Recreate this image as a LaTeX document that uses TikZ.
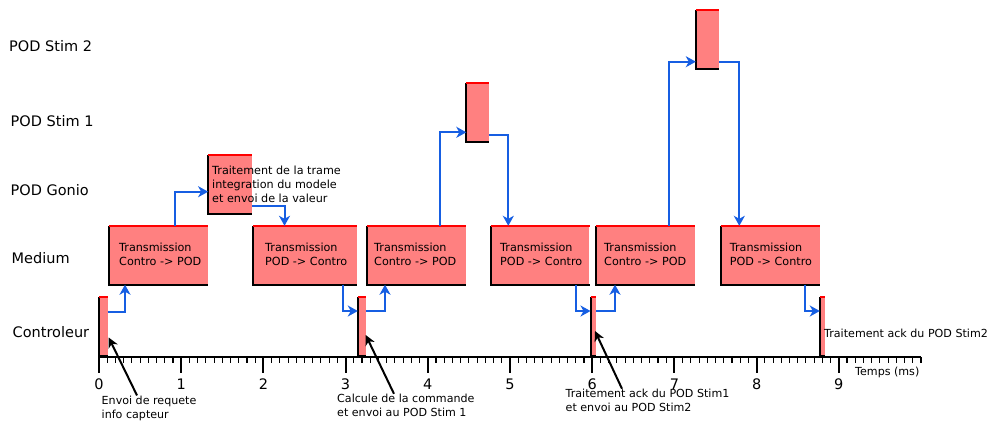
\documentclass[tikz,border=0pt]{standalone}
\usepackage{fontspec}
\setmainfont{DejaVu Sans}
\usetikzlibrary{arrows.meta,fit,calc}
\definecolor{boxfill}{RGB}{255,128,128}
\definecolor{flowblue}{RGB}{22,94,226}
\newcommand\boxedges[1]{%
  \draw[line width=2pt,black] (#1.north west) -- (#1.south west) -- (#1.south east);
  \draw[line width=1.4pt,red] (#1.north west) -- (#1.north east);}
\begin{document}
\begin{tikzpicture}[x=1pt,y=-1pt,
  task/.style={rectangle,fill=boxfill,inner sep=0pt,draw=none},
  flow/.style={draw=flowblue,line width=2pt,-{Stealth[length=10pt,width=11pt,inset=3pt]}},
  note/.style={draw=black,line width=2pt,-{Stealth[length=10pt,width=10pt,inset=3pt]}},
  rowlabel/.style={anchor=base west,font=\fontsize{14.5}{17}\selectfont,inner sep=0pt},
  boxtext/.style={anchor=north west,align=left,font=\fontsize{11.2}{14.5}\selectfont,inner sep=0pt},
  smalltext/.style={anchor=north west,align=left,font=\fontsize{11.1}{14.4}\selectfont,inner sep=0pt},
  ticklabel/.style={anchor=base,font=\fontsize{14.5}{17}\selectfont,inner sep=0pt}
]
\useasboundingbox (0,0) rectangle (992,421);

% row labels
\node[rowlabel] (lS2) at (9,51.7) {POD Stim 2};
\node[rowlabel] (lS1) at (10.5,126) {POD Stim 1};
\node[rowlabel] (lG) at (10.5,195.5) {POD Gonio};
\node[rowlabel] (lM) at (11.5,263) {Medium};
\node[rowlabel] (lC) at (12.5,337.3) {Controleur};

% axis
\draw[line width=2pt] (99,357) -- (921,357);
\foreach \i in {0,...,100} \draw[line width=1.1pt] (99+8.22*\i,357) -- ++(0,5.5);
\foreach \i in {0,...,9} {
  \draw[line width=2pt] (99+82.2*\i,357) -- ++(0,16);
  \node[ticklabel] (tk\i) at (99+82.2*\i,389) {\i};
}
\node[anchor=base west,font=\fontsize{11.1}{13}\selectfont,inner sep=0pt] (unit) at (855,375) {Temps (ms)};

% controller bars
\node[task,fit={(99,297) (107.5,356)}] (c1) {};
\node[task,fit={(358,297) (365.5,356)}] (c2) {};
\node[task,fit={(590.7,297) (595.8,356)}] (c3) {};
\node[task,fit={(820,297) (824.8,356)}] (c4) {};

% medium boxes
\node[task,fit={(109,226) (208,284.5)}] (m1) {};
\node[task,fit={(253.3,226) (356.7,284.5)}] (m2) {};
\node[task,fit={(366.7,226) (465.7,284.5)}] (m3) {};
\node[task,fit={(490.7,226) (589.3,284.5)}] (m4) {};
\node[task,fit={(596,226) (695,284.5)}] (m5) {};
\node[task,fit={(720.7,226) (820,284.5)}] (m6) {};

% POD boxes
\node[task,fit={(208.3,155) (251.7,213.5)}] (g) {};
\node[task,fit={(466.5,83) (489,142)}] (s1) {};
\node[task,fit={(696,10) (719,69)}] (s2) {};

\foreach \b in {c1,c2,c3,c4,m1,m2,m3,m4,m5,m6,g,s1,s2} {\boxedges{\b}}

% texts in boxes
\node[boxtext] (tm1) at (119,242.6) {Transmission\\Contro -> POD};
\node[boxtext] (tm2) at (265,242.6) {Transmission\\POD -> Contro};
\node[boxtext] (tm3) at (374,242.6) {Transmission\\Contro -> POD};
\node[boxtext] (tm4) at (500,242.6) {Transmission\\POD -> Contro};
\node[boxtext] (tm5) at (604,242.6) {Transmission\\Contro -> POD};
\node[boxtext] (tm6) at (729.7,242.6) {Transmission\\POD -> Contro};
\node[smalltext,font=\fontsize{11.2}{14}\selectfont] (tg) at (212,165.4) {Traitement de la trame\\integration du modele\\et envoi de la valeur};

% annotations
\node[smalltext] (n1) at (101.5,395.4) {Envoi de requete\\info capteur};
\node[smalltext] (n2) at (337,393.8) {Calcule de la commande\\et envoi au POD Stim 1};
\node[smalltext] (n3) at (565.5,388.8) {Traitement ack du POD Stim1\\et envoi au POD Stim2};
\node[anchor=base west,font=\fontsize{11.1}{13}\selectfont,inner sep=0pt] (n4) at (824,337.3) {Traitement ack du POD Stim2};

\draw[note] (n1.north -| 137,0) -- ($(c1.east |- 0,337.5)+(1,0)$);
\draw[note] (n2.north -| 394,0) -- (c2.east |- 0,335);
\draw[note] (n3.north -| 622,0) -- ($(c3.east |- 0,331)+(-1,0)$);

% flow arrows
\draw[flow] (c1.east |- 0,312) -| (m1.south -| 125,0);
\draw[flow] (m1.north -| 174.5,0) |- (g.west |- 0,191.7);
\draw[flow] (g.east |- 0,205.5) -| (m2.north -| 284.5,0);
\draw[flow] (m2.south -| 343.3,0) |- (c2.west |- 0,311);
\draw[flow] (c2.east |- 0,311) -| (m3.south -| 385,0);
\draw[flow] (m3.north -| 439.5,0) |- (s1.west |- 0,132.3);
\draw[flow] (s1.east |- 0,135) -| (m4.north -| 508.3,0);
\draw[flow] (m4.south -| 575.7,0) |- (c3.west |- 0,311);
\draw[flow] (c3.east |- 0,311) -| (m5.south -| 615,0);
\draw[flow] (m5.north -| 669,0) |- (s2.west |- 0,61.7);
\draw[flow] (s2.east |- 0,62.3) -| (m6.north -| 739.3,0);
\draw[flow] (m6.south -| 805,0) |- (c4.west |- 0,311);
\end{tikzpicture}
\end{document}
